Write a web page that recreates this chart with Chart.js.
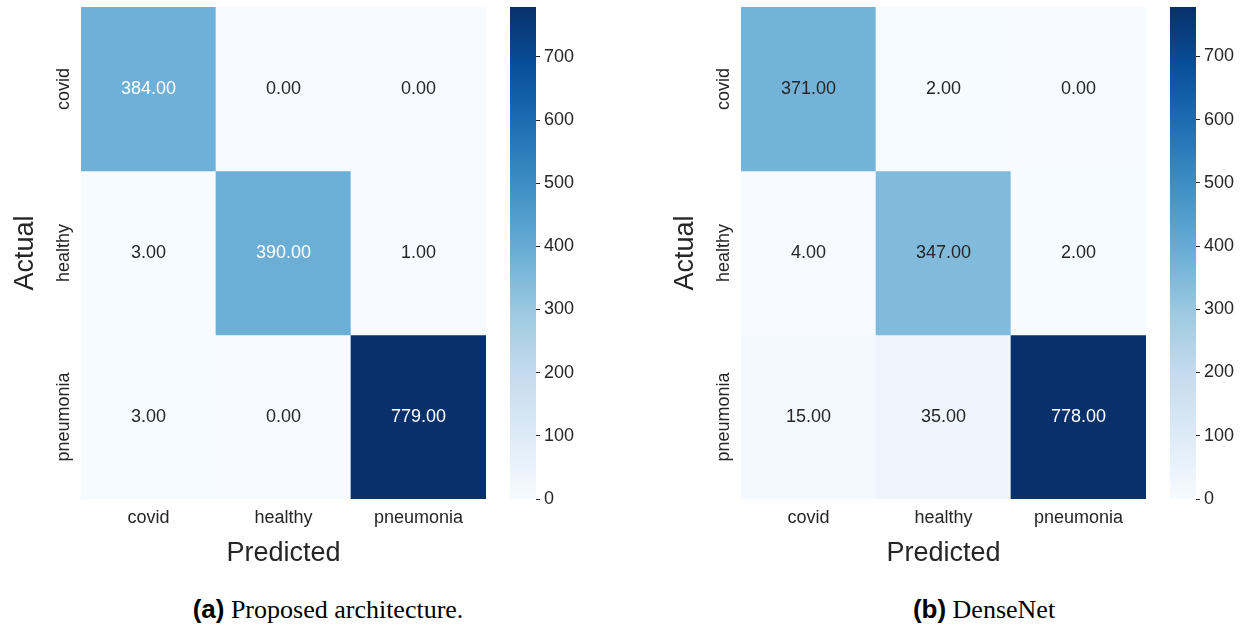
<!DOCTYPE html>
<html>
<head>
<meta charset="utf-8">
<script src="https://cdn.jsdelivr.net/npm/chart.js@4/dist/chart.umd.min.js"></script>
<style>
  body { margin: 0; background: #fff; width: 1252px; height: 631px; position: relative; overflow: hidden; }
  canvas { position: absolute; top: 0; }
  .caption { position: absolute; top: 594px; font: 26px 'Liberation Serif', 'Times New Roman', serif; color: #000; white-space: nowrap; transform: translateX(-50%); line-height: 30px; }
  .caption b { font-family: 'Liberation Sans', Arial, sans-serif; }
</style>
</head>
<body>
<canvas id="heatA" width="500" height="585" style="left:0px"></canvas>
<canvas id="barA" width="110" height="520" style="left:490px"></canvas>
<canvas id="heatB" width="500" height="585" style="left:660px"></canvas>
<canvas id="barB" width="110" height="520" style="left:1150px"></canvas>
<div class="caption" style="left:328px"><b>(a)</b> Proposed architecture.</div>
<div class="caption" style="left:984px"><b>(b)</b> DenseNet</div>
<script>
// data
const categories = ['covid', 'healthy', 'pneumonia']
const proposedMatrix = [
    [384, 0, 0],
    [3, 390, 1],
    [3, 0, 779]
]
const denseNetMatrix = [
    [371, 2, 0],
    [4, 347, 2],
    [15, 35, 778]
]
const colorbarTicks = [0, 100, 200, 300, 400, 500, 600, 700]

const sans = "'Liberation Sans', Arial, sans-serif"
const ink = '#262626'

// start: colormap (matplotlib Blues)
const bluesStops = ['#f7fbff', '#deebf7', '#c6dbef', '#9ecae1', '#6baed6', '#4292c6', '#2171b5', '#08519c', '#08306b']
const bluesRgb = bluesStops.map(function (h) {
    return [parseInt(h.slice(1, 3), 16), parseInt(h.slice(3, 5), 16), parseInt(h.slice(5, 7), 16)]
})
function blues(t) {
    t = Math.max(0, Math.min(1, t))
    const pos = t * 8
    const i = Math.min(7, Math.floor(pos))
    const f = pos - i
    const a = bluesRgb[i], b = bluesRgb[i + 1]
    return [0, 1, 2].map(function (k) { return Math.round(a[k] + (b[k] - a[k]) * f) })
}
function rgbStr(c) { return 'rgb(' + c[0] + ',' + c[1] + ',' + c[2] + ')' }
function luminance(c) {
    const lin = c.map(function (v) {
        v = v / 255
        return v <= 0.03928 ? v / 12.92 : Math.pow((v + 0.055) / 1.055, 2.4)
    })
    return 0.2126 * lin[0] + 0.7152 * lin[1] + 0.0722 * lin[2]
}
// end: colormap

const cellText = {
    id: 'cellText',
    afterDatasetsDraw(chart) {
        const ctx = chart.ctx
        ctx.save()
        ctx.font = '18px ' + sans
        ctx.textAlign = 'center'
        ctx.textBaseline = 'middle'
        chart.data.datasets.forEach(function (ds, di) {
            chart.getDatasetMeta(di).data.forEach(function (bar, ci) {
                const p = bar.getProps(['x', 'y', 'base'], true)
                const c = blues(ds.values[ci] / ds.vmax)
                ctx.fillStyle = luminance(c) > 0.408 ? ink : '#ffffff'
                ctx.fillText(ds.values[ci].toFixed(2), p.x, (p.y + p.base) / 2)
            })
        })
        ctx.restore()
    }
}

function drawHeatmap(id, matrix) {
    const vmax = Math.max.apply(null, matrix.flat())
    const datasets = matrix.map(function (row, r) {
        return {
            data: row.map(function () { return [r, r + 1] }),
            values: row,
            vmax: vmax,
            backgroundColor: row.map(function (v) { return rgbStr(blues(v / vmax)) }),
            borderWidth: 0,
            grouped: false,
            barPercentage: 1,
            categoryPercentage: 1
        }
    })
    new Chart(document.getElementById(id), {
        type: 'bar',
        data: { labels: categories, datasets: datasets },
        plugins: [cellText],
        options: {
            responsive: false,
            animation: false,
            layout: { padding: { left: 0, top: 7, right: 14, bottom: 0 } },
            plugins: { legend: { display: false }, tooltip: { enabled: false } },
            scales: {
                x: {
                    grid: { display: false, drawTicks: false },
                    border: { display: false },
                    ticks: { color: ink, font: { family: sans, size: 18 }, padding: 8 },
                    title: { display: true, text: 'Predicted', color: ink, font: { family: sans, size: 27 }, padding: { top: 0, bottom: 15 } },
                    afterFit: function (scale) { scale.height = 86 }
                },
                y: {
                    min: 0,
                    max: 3,
                    reverse: true,
                    grid: { display: false, drawTicks: false },
                    border: { display: true, color: '#e4e8ee', width: 1 },
                    afterBuildTicks: function (scale) {
                        scale.ticks = categories.map(function (c, i) { return { value: i + 0.5 } })
                    },
                    ticks: {
                        minRotation: 90,
                        maxRotation: 90,
                        crossAlign: 'center',
                        padding: -28,
                        color: ink,
                        font: { family: sans, size: 18 },
                        callback: function (v) { return categories[Math.floor(v)] }
                    },
                    title: { display: true, text: 'Actual', color: ink, font: { family: sans, size: 27 }, padding: { top: 9, bottom: 0 } },
                    afterFit: function (scale) { scale.width = 81 }
                }
            }
        }
    })
}

function drawColorbar(id, matrix) {
    const vmax = Math.max.apply(null, matrix.flat())
    new Chart(document.getElementById(id), {
        type: 'bar',
        data: {
            labels: [''],
            datasets: [{
                data: [[0, vmax]],
                borderWidth: 0,
                barPercentage: 1,
                categoryPercentage: 1,
                backgroundColor: function (c) {
                    const chart = c.chart
                    if (!chart.chartArea) return bluesStops[0]
                    const y = chart.scales.y
                    const g = chart.ctx.createLinearGradient(0, y.getPixelForValue(0), 0, y.getPixelForValue(vmax))
                    bluesStops.forEach(function (s, i) { g.addColorStop(i / 8, s) })
                    return g
                }
            }]
        },
        options: {
            responsive: false,
            animation: false,
            layout: { padding: { left: 20, top: 7, right: 0, bottom: 21 } },
            plugins: { legend: { display: false }, tooltip: { enabled: false } },
            scales: {
                x: { display: false },
                y: {
                    position: 'right',
                    min: 0,
                    max: vmax,
                    border: { display: false },
                    grid: { drawOnChartArea: false, drawTicks: true, tickLength: 4, tickColor: ink, tickWidth: 1 },
                    afterBuildTicks: function (scale) {
                        scale.ticks = colorbarTicks.map(function (v) { return { value: v } })
                    },
                    ticks: { padding: 4, color: ink, font: { family: sans, size: 18 } },
                    afterFit: function (scale) {
                        scale.width = 64
                        scale.paddingTop = 0
                        scale.paddingBottom = 0
                    }
                }
            }
        }
    })
}

drawHeatmap('heatA', proposedMatrix)
drawColorbar('barA', proposedMatrix)
drawHeatmap('heatB', denseNetMatrix)
drawColorbar('barB', denseNetMatrix)
</script>
</body>
</html>
